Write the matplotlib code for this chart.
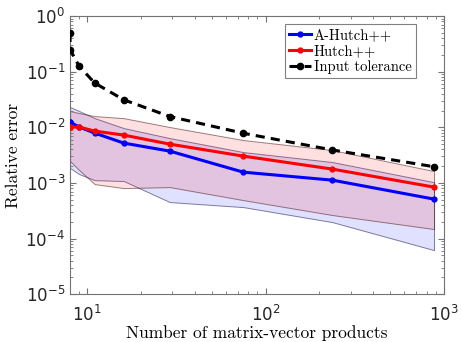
import matplotlib

matplotlib.use("Agg")
import matplotlib.pyplot as plt
import numpy as np

# number of matrix-vector products (first two tolerances both hit the minimum of 8)
matvecs = [8, 8, 9, 11, 16, 29, 75, 237, 880]
tolerance = [0.5, 0.25, 0.125, 0.0625, 0.03125, 0.015625, 0.0078125, 0.00390625, 0.001953125]

ahutch_err = [0.0124, 0.0124, 0.0101, 0.00787, 0.0052, 0.00373, 0.00156, 0.00112, 0.000511]
ahutch_lo = [0.00185, 0.00185, 0.00144, 0.00112, 0.00108, 0.000452, 0.000367, 0.000197, 0.0000618]
ahutch_hi = [0.0231, 0.0231, 0.0196, 0.0146, 0.00967, 0.00639, 0.00358, 0.00237, 0.00103]

hutch_err = [0.0101, 0.0101, 0.0101, 0.00855, 0.00724, 0.00498, 0.00303, 0.00177, 0.00084]
hutch_lo = [0.00247, 0.00247, 0.0017, 0.000951, 0.000806, 0.000841, 0.00049, 0.000264, 0.000148]
hutch_hi = [0.0196, 0.0196, 0.018, 0.0159, 0.0146, 0.0101, 0.00589, 0.00389, 0.00163]

serif = "cmr10"

fig = plt.figure(figsize=(4.61, 3.42), dpi=100)
ax = fig.add_axes([0.152, 0.140, 0.811, 0.813])

x = np.array(matvecs, dtype=float)
ax.fill_between(x, ahutch_lo, ahutch_hi, facecolor=(0, 0, 1, 0.12),
                edgecolor=(0.1, 0.1, 0.3, 0.55), linewidth=0.7, zorder=1)
ax.fill_between(x, hutch_lo, hutch_hi, facecolor=(1, 0, 0, 0.12),
                edgecolor=(0.3, 0.1, 0.1, 0.55), linewidth=0.7, zorder=1)

ax.plot(x, ahutch_err, color="#0000ff", marker=".", markersize=7, linewidth=2.2,
        label="A-Hutch++", zorder=3)
ax.plot(x, hutch_err, color="#ff0000", marker=".", markersize=7, linewidth=2.2,
        label="Hutch++", zorder=3)
ax.plot(x, tolerance, color="black", marker=".", markersize=9, linewidth=2.2,
        linestyle=(0, (3, 2)), label="Input tolerance", zorder=3)

ax.set_xscale("log")
ax.set_yscale("log")
ax.set_xlim(8, 1000)
ax.set_ylim(1e-5, 1)

axis_color = "0.45"
for spine in ax.spines.values():
    spine.set_color(axis_color)
    spine.set_linewidth(0.8)
ax.tick_params(which="both", direction="in", top=True, right=True,
               color=axis_color, labelcolor="#262626", labelsize=12)
ax.tick_params(which="major", length=4)
ax.tick_params(which="minor", length=2)
ax.tick_params(axis="x", which="major", pad=8)
ax.set_yticks([1e-5, 1e-4, 1e-3, 1e-2, 1e-1, 1])
ax.set_xticks([10, 100, 1000])

ax.set_xlabel("Number of matrix-vector products", family=serif, fontsize=12.5, labelpad=0)
ax.set_ylabel("Relative error", family=serif, fontsize=12.5, labelpad=3)

leg = ax.legend(loc="upper right", bbox_to_anchor=(0.925, 0.972), prop={"family": serif, "size": 10.5},
                fancybox=False, framealpha=1, edgecolor="0.5", handlelength=1.5,
                handletextpad=0.2, borderpad=0.3, labelspacing=0.15, borderaxespad=0)
leg.get_frame().set_linewidth(0.8)

fig.savefig("out.png", dpi=100)
